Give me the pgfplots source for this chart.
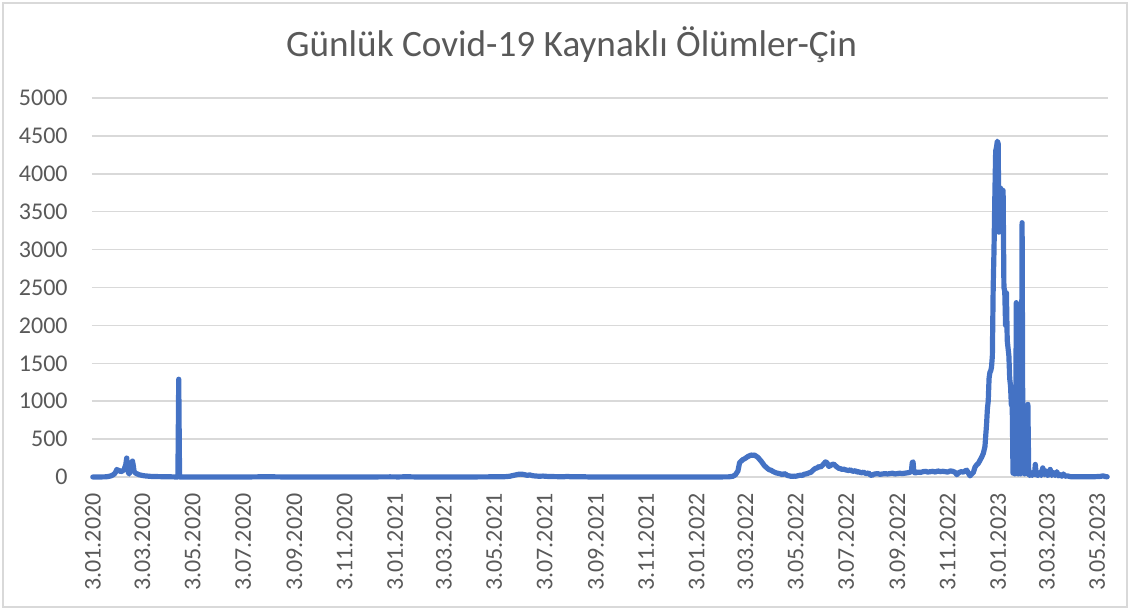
\documentclass[border=0pt]{standalone}
\usepackage{pgfplots}
\usepackage{pgfplotstable}
\pgfplotsset{compat=1.18}
\usepackage{fontspec}
\setmainfont{Carlito}

\definecolor{lineblue}{HTML}{4472C4}
\definecolor{gridgray}{HTML}{D9D9D9}
\definecolor{textgray}{HTML}{595959}

% day = days since 3.01.2020, deaths = daily deaths
\pgfplotstableread{
day deaths
0 0
5 0
10 1
15 2
18 5
20 10
22 15
24 25
26 40
28 70
29 100
30 90
32 85
34 70
36 80
38 100
40 170
41 250
42 140
43 60
44 40
45 80
46 130
48 210
49 150
50 70
52 50
54 40
56 30
58 25
60 20
63 15
66 12
70 8
75 6
80 5
85 4
90 3
95 2
100 1
103 1
104 1290
105 0
110 1
130 0
150 1
170 0
190 1
200 2
210 3
220 2
230 1
240 0
260 1
280 0
300 1
320 0
340 1
360 2
370 1
380 3
390 1
400 0
420 1
440 0
460 1
480 2
495 3
500 5
505 10
508 18
511 25
514 33
517 38
520 36
523 30
526 22
529 28
532 18
535 14
540 10
545 12
550 8
555 6
560 5
565 4
570 3
575 8
578 3
585 2
590 4
600 1
620 0
640 1
660 0
680 1
700 0
720 1
740 0
760 1
770 2
775 10
778 30
781 80
783 190
785 210
787 230
789 240
791 255
793 270
795 280
797 290
799 286
801 290
803 275
805 260
807 235
809 210
811 180
813 150
815 130
817 110
819 95
821 90
823 75
825 65
827 55
829 50
831 45
833 40
835 30
837 45
839 35
841 20
843 15
845 10
847 8
849 12
851 10
853 15
855 20
857 25
859 20
861 35
863 40
865 45
867 55
869 60
871 80
873 100
875 115
877 120
879 140
881 130
883 150
885 175
887 200
889 185
891 140
893 150
895 165
897 170
899 150
901 130
903 115
905 110
907 100
909 105
911 95
913 90
915 85
917 95
919 80
921 75
923 85
925 65
927 70
929 60
931 55
933 65
935 50
937 45
939 55
941 30
943 20
945 35
947 40
950 45
953 35
956 40
959 45
962 40
965 45
968 50
971 40
974 45
977 50
980 45
983 50
986 55
989 60
991 80
992 190
993 200
994 60
996 55
999 65
1002 60
1005 70
1008 75
1011 65
1014 70
1017 75
1020 65
1023 80
1026 70
1029 75
1032 70
1035 65
1038 80
1041 75
1044 60
1046 30
1048 55
1051 70
1054 65
1056 80
1058 90
1060 50
1062 15
1064 40
1066 60
1068 130
1070 160
1072 180
1074 220
1076 260
1078 310
1080 400
1082 700
1083 900
1084 1000
1085 1300
1086 1380
1087 1400
1088 1450
1089 1600
1090 2500
1091 3000
1092 3700
1093 4300
1094 4350
1095 4430
1096 4400
1097 3230
1098 3600
1099 3810
1100 3780
1101 3400
1102 3780
1103 2500
1104 2450
1105 2000
1106 2430
1107 1800
1108 1700
1109 1600
1110 1300
1111 1200
1112 950
1113 1000
1114 50
1115 50
1116 40
1117 60
1118 2300
1119 50
1120 40
1121 60
1122 50
1123 40
1124 60
1125 3355
1126 50
1127 60
1128 40
1129 50
1130 70
1131 60
1132 958
1133 40
1134 20
1135 50
1136 30
1137 20
1138 60
1140 30
1141 166
1142 40
1144 20
1146 60
1148 20
1150 120
1152 30
1154 80
1156 20
1158 40
1159 100
1161 20
1163 60
1165 20
1167 70
1169 15
1171 30
1173 10
1175 40
1177 10
1180 15
1183 5
1186 3
1190 2
1195 2
1200 3
1205 2
1210 3
1215 5
1220 8
1223 15
1226 5
1228 3
}\deaths

\begin{document}
\begin{tikzpicture}
\useasboundingbox (-46pt,-66.5pt) rectangle (519pt,238.5pt);
\draw[gridgray, line width=0.75pt] (-44.5pt,-65pt) rectangle (517.5pt,237pt);
\begin{axis}[
    scale only axis,
    width=508pt, height=189.5pt,
    xmin=-1, xmax=1229,
    ymin=0, ymax=5000,
    axis lines=left,
    axis line style={draw=none},
    major tick length=0pt,
    ymajorgrids=true,
    grid style={gridgray, line width=0.75pt},
    ytick={0,500,1000,1500,2000,2500,3000,3500,4000,4500,5000},
    yticklabels={0,500,1000,1500,2000,2500,3000,3500,4000,4500,5000},
    xtick={0,60,121,182,244,305,366,425,486,547,609,670,731,790,851,912,974,1035,1096,1155,1216},
    xticklabels={3.01.2020,3.03.2020,3.05.2020,3.07.2020,3.09.2020,3.11.2020,
        3.01.2021,3.03.2021,3.05.2021,3.07.2021,3.09.2021,3.11.2021,
        3.01.2022,3.03.2022,3.05.2022,3.07.2022,3.09.2022,3.11.2022,
        3.01.2023,3.03.2023,3.05.2023},
    tick label style={font=\fontsize{12}{14}\selectfont, text=textgray},
    yticklabel style={anchor=east, inner sep=0pt, xshift=-12pt},
    xticklabel style={rotate=90, anchor=east, inner sep=0pt},
    xticklabel shift=8pt,
    title={Günlük Covid-19 Kaynaklı Ölümler-Çin},
    title style={at={(0.472,1.108)}, anchor=center, inner sep=0pt,
        font=\fontsize{18.6}{22}\selectfont, text=textgray},
    clip=false,
]
\addplot[lineblue, line width=2.6pt, line join=round, line cap=round] table[x=day, y=deaths] {\deaths};
\end{axis}
\end{tikzpicture}
\end{document}
